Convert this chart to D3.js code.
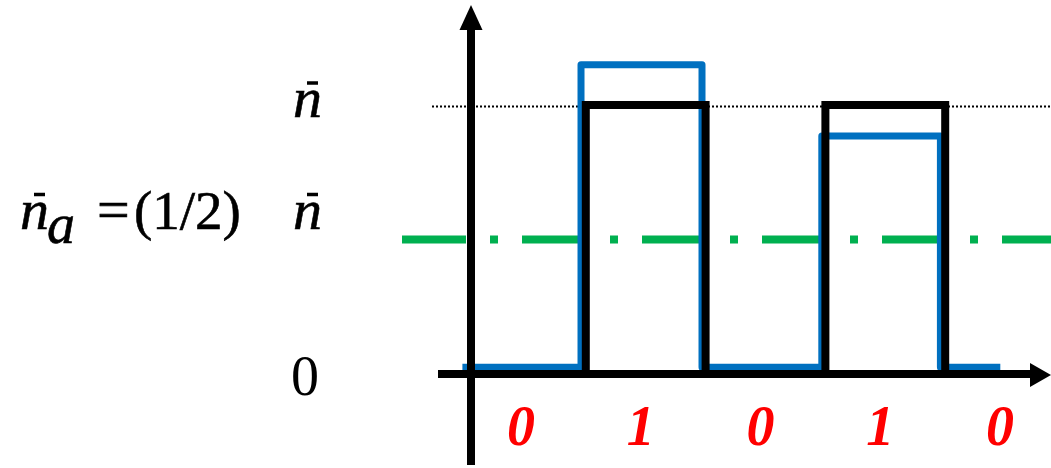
<!DOCTYPE html>
<html>
<head>
<meta charset="utf-8">
<script src="https://cdn.jsdelivr.net/npm/d3@7"></script>
<style>
  html, body { margin: 0; padding: 0; background: #fff; }
  svg { display: block; }
</style>
</head>
<body>
<div id="chart"></div>
<script>
// bit sequence and the signal levels (in units of n-bar)
const bits = [0, 1, 0, 1, 0];
const bitLabels = ["0", "1", "0", "1", "0"];
// measured (blue) signal: edge times and level per segment
const measuredEdges = [-0.03, 0.96, 1.97, 2.97, 3.96, 4.46];
const measuredLevels = [0.025, 1.15, 0.025, 0.885, 0.025];
// reference levels
const fullLevel = 1;      // n-bar
const halfLevel = 0.5;    // n-bar_a = (1/2) n-bar

const W = 1051, H = 468;
const axisX = 471;

const svg = d3.select("#chart").append("svg")
  .attr("width", W).attr("height", H);

const x = d3.scaleLinear().domain([0, 5]).range([466, 1065]);
const y = d3.scaleLinear().domain([0, 1]).range([374, 105]);

// dotted n-bar reference line
svg.append("line")
  .attr("x1", 432).attr("x2", W)
  .attr("y1", y(fullLevel) + 1.5).attr("y2", y(fullLevel) + 1.5)
  .attr("stroke", "#000").attr("stroke-width", 2)
  .attr("stroke-dasharray", "2 2");

// green dash-dot half level
svg.append("line")
  .attr("x1", 402).attr("x2", W)
  .attr("y1", y(halfLevel)).attr("y2", y(halfLevel))
  .attr("stroke", "#00b050").attr("stroke-width", 8)
  .attr("stroke-dasharray", "64 24 8 24");

// blue measured signal
const bluePts = measuredEdges.map((t, i) => [t, measuredLevels[Math.min(i, measuredLevels.length - 1)]]);
svg.append("path")
  .attr("d", d3.line().x(d => x(d[0])).y(d => y(d[1])).curve(d3.curveStepAfter)(bluePts))
  .attr("fill", "none").attr("stroke", "#0070c0").attr("stroke-width", 7)
  .attr("stroke-linejoin", "round");

// black ideal pulses
bits.forEach((b, i) => {
  if (!b) return;
  const pts = [[i, 0], [i, b * fullLevel], [i + 1, b * fullLevel], [i + 1, 0]];
  svg.append("path")
    .attr("d", d3.line().x(d => x(d[0])).y(d => y(d[1]))(pts))
    .attr("fill", "none").attr("stroke", "#000").attr("stroke-width", 8)
    .attr("stroke-linejoin", "miter");
});

// axes
svg.append("line")
  .attr("x1", 438).attr("x2", 1035).attr("y1", y(0)).attr("y2", y(0))
  .attr("stroke", "#000").attr("stroke-width", 8);
svg.append("polygon")
  .attr("points", [[1051, y(0) + 1], [1030, y(0) - 11], [1030, y(0) + 13]].join(" "))
  .attr("fill", "#000");
svg.append("line")
  .attr("x1", axisX).attr("x2", axisX).attr("y1", 25).attr("y2", 465)
  .attr("stroke", "#000").attr("stroke-width", 8);
svg.append("polygon")
  .attr("points", [[axisX, 5], [axisX - 11.5, 30], [axisX + 11.5, 30]].join(" "))
  .attr("fill", "#000");

// bit labels under the axis
svg.selectAll("text.bit")
  .data(bitLabels)
  .enter().append("text")
    .attr("class", "bit")
    .attr("x", (d, i) => x(i + 0.5) - 5)
    .attr("y", 445)
    .attr("text-anchor", "middle")
    .attr("font-family", "Liberation Serif")
    .attr("font-style", "italic")
    .attr("font-weight", "bold")
    .attr("font-size", 56)
    .attr("fill", "#ff0000")
    .text(d => d);

// math labels on the left
const mathFont = "Liberation Serif";
function mathText(px, baseline, str, size, italic) {
  return svg.append("text")
    .attr("x", px).attr("y", baseline)
    .attr("font-family", mathFont)
    .attr("font-style", italic ? "italic" : "normal")
    .attr("font-size", size)
    .attr("stroke", "#000").attr("stroke-width", 0.6)
    .text(str);
}
function nbar(px, baseline) {
  mathText(px, baseline, "n", 58, true);
  svg.append("line")
    .attr("x1", px + 14).attr("x2", px + 25)
    .attr("y1", baseline - 34).attr("y2", baseline - 34)
    .attr("stroke", "#000").attr("stroke-width", 3.5);
}

// 0 tick
svg.append("text")
  .attr("x", 305).attr("y", y(0) + 21)
  .attr("text-anchor", "middle")
  .attr("font-family", mathFont).attr("font-size", 56)
  .text("0");

// n-bar tick
nbar(293, y(fullLevel) + 12);

// n-bar_a = (1/2) n-bar
const base = y(halfLevel) - 11;
nbar(20, base);
mathText(47, base + 14, "a", 56, true);
mathText(97, base, "=", 58, false);
mathText(134, base, "(1/2)", 55, false);
nbar(293, base);
</script>
</body>
</html>
